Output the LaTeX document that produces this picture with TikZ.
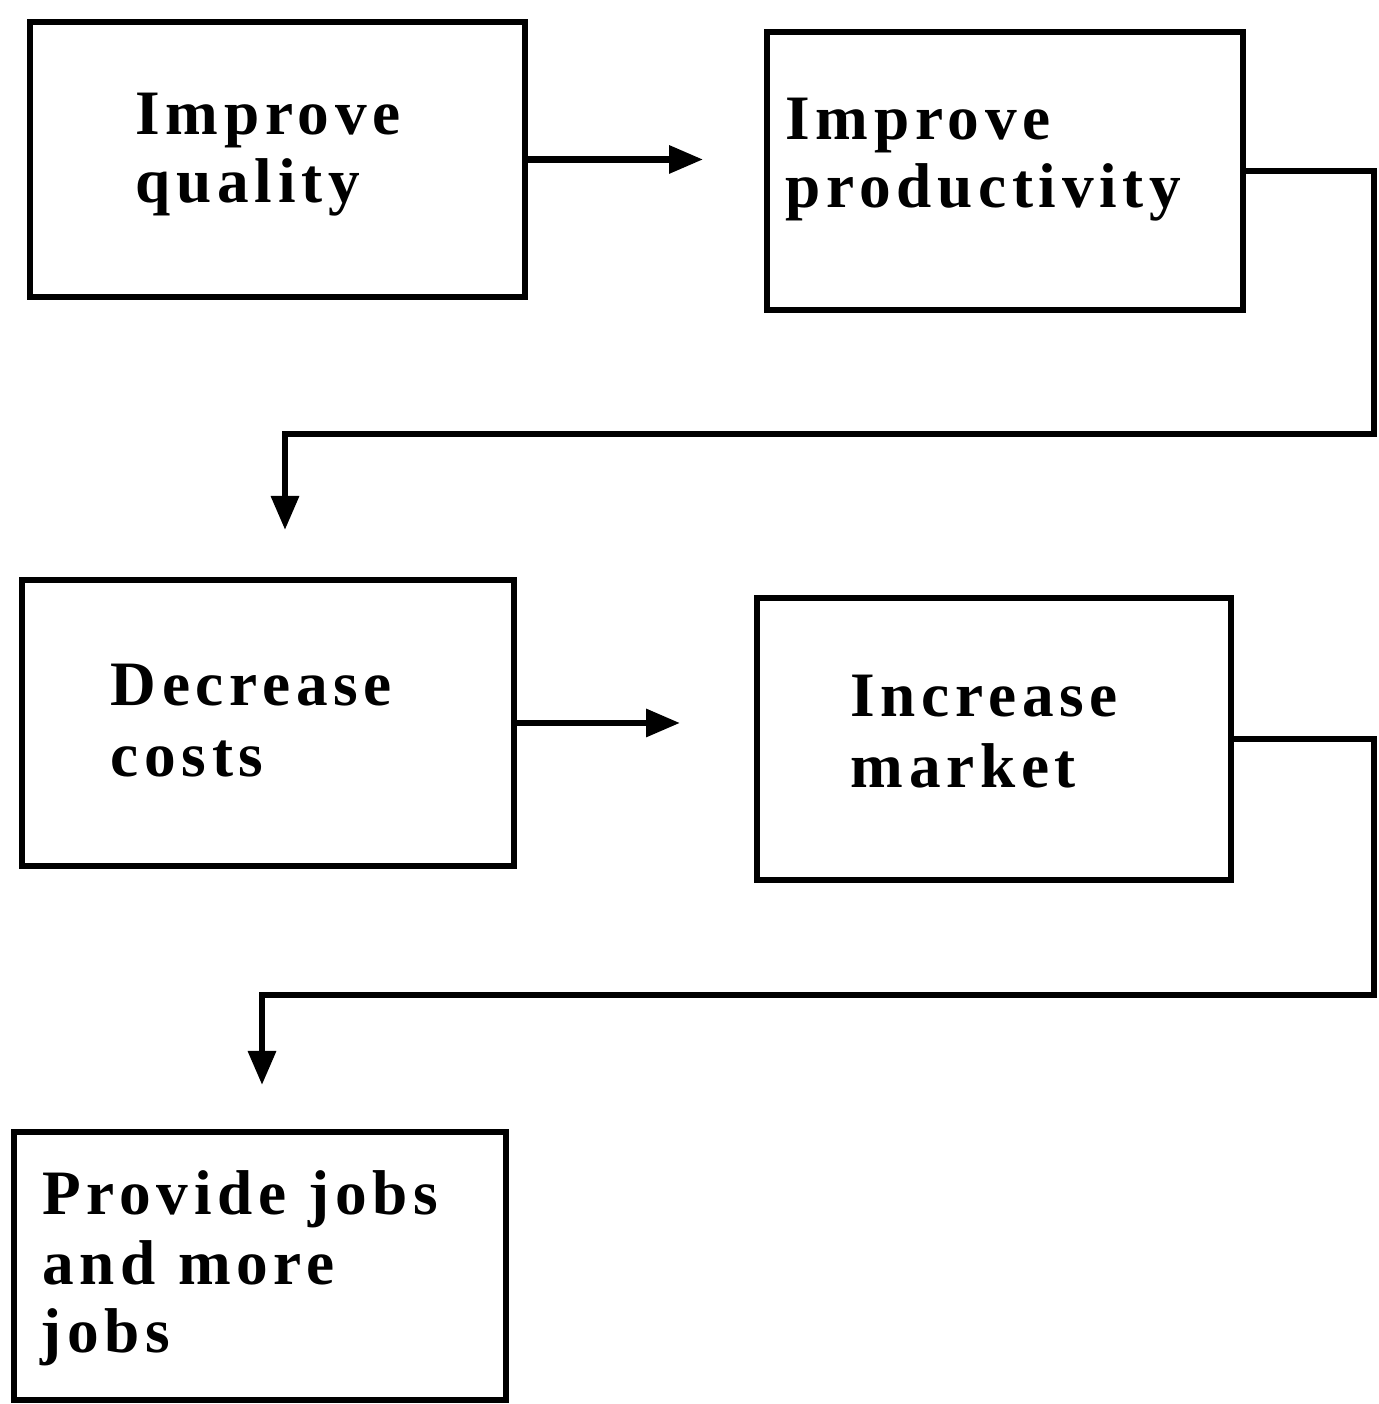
\documentclass[tikz,border=0pt]{standalone}
\usepackage{fontspec}
\setmainfont{Liberation Serif}[LetterSpace=9]
\usetikzlibrary{arrows.meta}
\begin{document}
\begin{tikzpicture}[
  box/.style={draw, line width=1.8pt, rectangle, inner sep=0pt},
  lbl/.style={anchor=base west, inner sep=0pt, font=\fontsize{18}{20}\selectfont\bfseries},
  conn/.style={line width=1.8pt},
  arr/.style={line width=1.8pt, -{Triangle[length=0.34cm,width=0.27cm]}}
]
\useasboundingbox (0,0) rectangle (13.78,14.04);
% boxes
\node[box, minimum width=4.95cm, minimum height=2.75cm] (b1) at (2.775,12.445) {};
\node[box, minimum width=4.76cm, minimum height=2.78cm] (b2) at (10.05,12.33) {};
\node[box, minimum width=4.92cm, minimum height=2.86cm] (b3) at (2.68,6.81) {};
\node[box, minimum width=4.74cm, minimum height=2.82cm] (b4) at (9.94,6.65) {};
\node[box, minimum width=4.92cm, minimum height=2.68cm] (b5) at (2.60,1.38) {};
% texts
\node[lbl] (t1a) at (1.35,12.69) {Improve};
\node[lbl] (t1b) at (1.35,12.01) {quality};
\node[lbl] (t2a) at (7.85,12.64) {Improve};
\node[lbl] (t2b) at (7.85,11.96) {productivity};
\node[lbl] (t3a) at (1.10,6.98) {Decrease};
\node[lbl] (t3b) at (1.10,6.27) {costs};
\node[lbl] (t4a) at (8.50,6.87) {Increase};
\node[lbl] (t4b) at (8.50,6.16) {market};
\node[lbl] (t5a) at (0.42,1.89) {Provide\hspace{0.35em}jobs};
\node[lbl] (t5b) at (0.42,1.19) {and\hspace{0.35em}more};
\node[lbl] (t5c) at (0.40,0.52) {jobs};
% connector end points
\coordinate (e1) at (7.03,12.445);
\coordinate (e3) at (6.80,6.81);
\coordinate (c2a) at (13.74,12.33);
\coordinate (c2b) at (13.74,9.70);
\coordinate (c2c) at (2.85,9.70);
\coordinate (e2) at (2.85,8.74);
\coordinate (c4a) at (13.74,6.65);
\coordinate (c4b) at (13.74,4.09);
\coordinate (c4c) at (2.62,4.09);
\coordinate (e4) at (2.62,3.19);
% connectors
\draw[arr] (b1.east) -- (e1);
\draw[arr] (b3.east) -- (e3);
\draw[arr, line join=miter] (b2.east) -- (c2a) -- (c2b) -- (c2c) -- (e2);
\draw[arr, line join=miter] (b4.east) -- (c4a) -- (c4b) -- (c4c) -- (e4);
\end{tikzpicture}
\end{document}
